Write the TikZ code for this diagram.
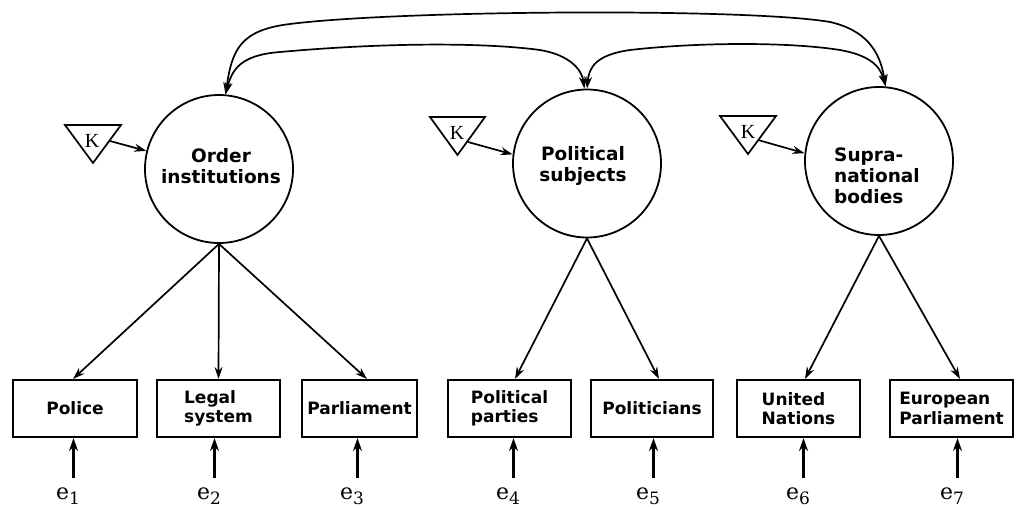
\documentclass[tikz,border=0pt]{standalone}
\usepackage{fontspec}
\newfontfamily\dvsans{DejaVu Sans}
\newfontfamily\dvserif{DejaVu Serif}
\newfontfamily\lserif{Liberation Serif}
\usetikzlibrary{arrows.meta}
\begin{document}
\begin{tikzpicture}[x=1pt,y=-1pt,
  latent/.style={circle, draw, line width=1.8pt, minimum size=148pt, inner sep=0pt},
  clabel/.style={font=\dvsans\bfseries\fontsize{18.5}{21}\selectfont, align=center, inner sep=0pt},
  obs/.style={draw, line width=2.1pt, minimum height=57pt, inner sep=0pt,
    font=\dvsans\bfseries\fontsize{17}{19.5}\selectfont, align=left},
  err/.style={font=\dvserif\fontsize{22}{24}\selectfont, inner sep=0pt},
  ktxt/.style={font=\lserif\fontsize{20}{22}\selectfont, inner sep=0pt},
  tri/.style={line width=1.7pt, line join=miter},
  conn/.style={line width=1.7pt},
  filltip/.style={conn, -{Stealth[length=12pt,width=8pt]}},
  errtip/.style={line width=2.4pt, -{Stealth[length=13pt,width=9pt]}},
  opentip/.style={conn, -{Stealth[open,length=12pt,width=8pt]}},
  bothtip/.style={conn, {Stealth[length=12pt,width=8pt]}-{Stealth[length=12pt,width=8pt]}}
]
\path[fill=white] (0,0) rectangle (1018,507);
\useasboundingbox (0,0) rectangle (1018,507);

% latent variables
\node[latent] (c1) at (219,169) {};
\node[latent] (c2) at (587,163.5) {};
\node[latent] (c3) at (879,161) {};
\node[clabel] (t1) at (221,166.5) {Order\\institutions};
\node[clabel] (t2) at (583,166) {Political\\subjects};
\node[clabel, align=left] (t3) at (877,176) {Supra-\\national\\bodies};

% K triangles
\draw[tri] (65,125) -- (121,125) -- (93,163) -- cycle;
\node[ktxt] (k1) at (92,141) {K};
\coordinate (kk1) at (110,141);
\draw[tri] (430,117) -- (485,117) -- (457.5,155) -- cycle;
\node[ktxt] (k2) at (457,133) {K};
\coordinate (kk2) at (468,142);
\draw[tri] (720,116) -- (776,116) -- (748,154) -- cycle;
\node[ktxt] (k3) at (748,132) {K};
\coordinate (kk3) at (758,140);

\draw[opentip] (kk1) -- (c1.166);
\draw[filltip] (kk2) -- (c2.173);
\draw[filltip] (kk3) -- (c3.174);

% observed variables
\node[obs, minimum width=124pt] (police) at (75,408.5) {Police};
\node[obs, minimum width=123pt] (legal) at (218.5,408.5) {Legal\\system};
\node[obs, minimum width=115pt] (parl) at (359.5,408.5) {Parliament};
\node[obs, minimum width=123pt] (pp) at (509.5,408.5) {Political\\parties};
\node[obs, minimum width=122pt] (pol) at (652,408.5) {Politicians};
\node[obs, minimum width=123pt] (un) at (798.5,408.5) {United\\Nations};
\node[obs, minimum width=123pt] (ep) at (951.5,408.5) {European\\Parliament};

% loadings
\draw[opentip] (c1.south) -- ([xshift=-2pt]police.north);
\draw[opentip] (c1.south) -- (legal.north);
\draw[opentip] (c1.south) -- ([xshift=7.5pt]parl.north);
\draw[opentip] (c2.south) -- ([xshift=5.5pt]pp.north);
\draw[opentip] (c2.south) -- ([xshift=7pt]pol.north);
\draw[opentip] (c3.south) -- ([xshift=6.5pt]un.north);
\draw[opentip] (c3.south) -- ([xshift=8.5pt]ep.north);

% errors
\newcommand{\errlab}[1]{e\raisebox{-5pt}{\fontsize{17}{17}\selectfont #1}}
\node[err] (e1) at (68,496.5) {\errlab{1}};
\node[err] (e2) at (209,496.5) {\errlab{2}};
\node[err] (e3) at (352,496.5) {\errlab{3}};
\node[err] (e4) at (508,496.5) {\errlab{4}};
\node[err] (e5) at (648,496.5) {\errlab{5}};
\node[err] (e6) at (798,496.5) {\errlab{6}};
\node[err] (e7) at (952,496.5) {\errlab{7}};
\foreach \e/\b in {e1/police,e2/legal,e3/parl,e4/pp,e5/pol,e6/un,e7/ep}{
  \draw[errtip] ([xshift=5.5pt,yshift=10pt]\e.north) -- ([xshift=5.5pt]\e.north |- \b.south);
}

% covariances
\draw[bothtip] (c1.85) .. controls (232,50) and (240,30) .. (290,24)
  .. controls (400,10) and (750,8) .. (830,22)
  .. controls (865,30) and (880,50) .. (c3.85);
\draw[bothtip] (c1.85) .. controls (232,70) and (240,55) .. (280,52)
  .. controls (380,43) and (480,42) .. (540,50)
  .. controls (570,55) and (582,70) .. (c2.92);
\draw[bothtip] (c2.90) .. controls (589,68) and (595,55) .. (630,50)
  .. controls (700,42) and (790,42) .. (840,50)
  .. controls (868,55) and (880,65) .. (c3.85);
\end{tikzpicture}
\end{document}
